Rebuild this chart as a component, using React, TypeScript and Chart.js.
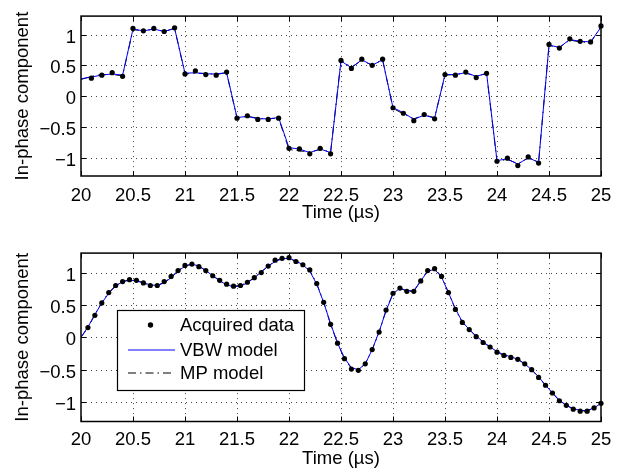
import React, { useEffect, useRef } from 'react';
import { Chart, registerables } from 'chart.js';

Chart.register(...registerables);

const FONT = "'Liberation Sans', Arial, Helvetica, sans-serif";
const FONT_SIZE = 18.5;

// Axis ticks
const xTicks = [20, 20.5, 21, 21.5, 22, 22.5, 23, 23.5, 24, 24.5, 25];
const yTicks = [-1, -0.5, 0, 0.5, 1];
const xMin = 20;
const xMax = 25;
const yMin = -1.3;
const yMax = 1.3;

const xTitle = 'Time (µs)';
const yTitle = 'In-phase component';
const legendLabels = ['Acquired data', 'VBW model', 'MP model'];

// ---------- Top panel (sampling every 0.1 µs) ----------
const topStart = 20;
const topStep = 0.1;
// acquired samples at 20.1 ... 25.0
const topAcquired = [
  0.29, 0.34, 0.38, 0.32,
  1.10, 1.06, 1.10, 1.05, 1.11,
  0.36, 0.41, 0.35, 0.34, 0.39,
  -0.36, -0.32, -0.38, -0.38, -0.36,
  -0.85, -0.86, -0.94, -0.85, -0.94,
  0.58, 0.45, 0.60, 0.50, 0.60,
  -0.19, -0.28, -0.40, -0.30, -0.37,
  0.35, 0.34, 0.39, 0.30, 0.37,
  -1.06, -1.01, -1.13, -0.99, -1.09,
  0.84, 0.78, 0.93, 0.89, 0.88,
  1.14,
];
// models at 20.0 ... 25.0
const topVBW = [
  0.28,
  0.31, 0.34, 0.36, 0.34,
  1.09, 1.06, 1.09, 1.05, 1.10,
  0.37, 0.38, 0.36, 0.36, 0.38,
  -0.35, -0.33, -0.37, -0.37, -0.35,
  -0.84, -0.86, -0.92, -0.86, -0.92,
  0.57, 0.46, 0.59, 0.50, 0.59,
  -0.19, -0.27, -0.38, -0.31, -0.36,
  0.35, 0.35, 0.38, 0.32, 0.37,
  -1.05, -1.02, -1.11, -1.00, -1.08,
  0.83, 0.79, 0.92, 0.89, 0.88,
  1.12,
];
const topMP = [
  0.27,
  0.32, 0.35, 0.35, 0.33,
  1.08, 1.06, 1.09, 1.05, 1.10,
  0.36, 0.37, 0.37, 0.35, 0.38,
  -0.36, -0.33, -0.36, -0.37, -0.36,
  -0.87, -0.89, -0.91, -0.87, -0.91,
  0.58, 0.47, 0.58, 0.50, 0.59,
  -0.20, -0.29, -0.37, -0.31, -0.35,
  0.34, 0.35, 0.37, 0.33, 0.36,
  -1.06, -1.03, -1.10, -1.01, -1.07,
  0.82, 0.79, 0.91, 0.88, 0.87,
  1.13,
];

// ---------- Bottom panel (sampling every 1/15 µs) ----------
const bottomStart = 20;
const bottomStep = 1 / 15;
// acquired samples at 20 + 1/15 ... 25.0
const bottomAcquired = [
  0.15, 0.34, 0.53, 0.69, 0.80, 0.86, 0.89, 0.88, 0.84, 0.80,
  0.80, 0.86, 0.94, 1.03, 1.11, 1.13, 1.09, 1.03, 0.95, 0.88,
  0.82, 0.79, 0.80, 0.85, 0.92, 1.00, 1.10, 1.19, 1.22, 1.23,
  1.17, 1.12, 1.04, 0.83, 0.54, 0.20, -0.09, -0.33, -0.49, -0.51,
  -0.41, -0.19, 0.08, 0.42, 0.68, 0.76, 0.71, 0.71, 0.87, 1.03,
  1.06, 0.94, 0.69, 0.43, 0.23, 0.12, 0.01, -0.08, -0.15, -0.23,
  -0.28, -0.31, -0.34, -0.41, -0.50, -0.62, -0.74, -0.86, -0.98, -1.05,
  -1.11, -1.14, -1.14, -1.09, -1.02,
];
// models at 20.0 ... 25.0
const bottomVBW = [
  0.00,
  0.16, 0.35, 0.53, 0.68, 0.79, 0.86, 0.88, 0.87, 0.84, 0.81,
  0.80, 0.84, 0.92, 1.02, 1.10, 1.13, 1.10, 1.03, 0.95, 0.87,
  0.81, 0.78, 0.79, 0.84, 0.92, 1.01, 1.10, 1.17, 1.21, 1.22,
  1.18, 1.12, 1.02, 0.82, 0.54, 0.21, -0.09, -0.32, -0.47, -0.50,
  -0.41, -0.19, 0.09, 0.41, 0.67, 0.76, 0.72, 0.72, 0.87, 1.02,
  1.05, 0.93, 0.69, 0.44, 0.24, 0.12, 0.02, -0.07, -0.15, -0.22,
  -0.27, -0.30, -0.34, -0.41, -0.50, -0.61, -0.74, -0.86, -0.97, -1.05,
  -1.10, -1.13, -1.13, -1.09, -1.02,
];
const bottomMP = [
  0.00,
  0.15, 0.35, 0.54, 0.69, 0.80, 0.86, 0.89, 0.88, 0.84, 0.80,
  0.80, 0.85, 0.93, 1.03, 1.10, 1.13, 1.10, 1.03, 0.95, 0.88,
  0.82, 0.79, 0.80, 0.85, 0.92, 1.01, 1.10, 1.18, 1.22, 1.22,
  1.17, 1.12, 1.03, 0.83, 0.54, 0.20, -0.09, -0.33, -0.48, -0.50,
  -0.41, -0.19, 0.08, 0.42, 0.68, 0.76, 0.71, 0.71, 0.87, 1.03,
  1.06, 0.94, 0.69, 0.43, 0.23, 0.12, 0.01, -0.08, -0.15, -0.23,
  -0.28, -0.31, -0.34, -0.41, -0.50, -0.62, -0.74, -0.86, -0.98, -1.05,
  -1.11, -1.14, -1.14, -1.09, -1.02,
];

const MP_DASH = [8, 4, 1.5, 4];

const fmt = (v: number) => (v < 0 ? '\u2212' + String(Math.abs(v)) : String(v));

const toPoints = (vals: number[], start: number, step: number, offset: number) =>
  vals.map((y, i) => ({ x: start + (i + offset) * step, y }));

const framePlugin = {
  id: 'matlabFrame',
  beforeDatasetsDraw(chart: any) {
    const { ctx, chartArea: a, scales } = chart;
    const xs = scales.x;
    const ys = scales.y;
    ctx.save();
    ctx.strokeStyle = '#444';
    ctx.lineWidth = 1;
    ctx.setLineDash([1, 4]);
    for (const v of xTicks) {
      if (v === xMin || v === xMax) continue;
      const px = Math.round(xs.getPixelForValue(v)) + 0.5;
      ctx.beginPath();
      ctx.moveTo(px, a.top);
      ctx.lineTo(px, a.bottom);
      ctx.stroke();
    }
    for (const v of yTicks) {
      const py = Math.round(ys.getPixelForValue(v)) + 0.5;
      ctx.beginPath();
      ctx.moveTo(a.left, py);
      ctx.lineTo(a.right, py);
      ctx.stroke();
    }
    ctx.restore();
  },
  afterDatasetsDraw(chart: any) {
    const { ctx, chartArea: a, scales } = chart;
    const xs = scales.x;
    const ys = scales.y;
    const tl = 5;
    ctx.save();
    ctx.strokeStyle = '#000';
    ctx.lineWidth = 1;
    ctx.setLineDash([]);
    for (const v of xTicks) {
      const px = Math.round(xs.getPixelForValue(v)) + 0.5;
      ctx.beginPath();
      ctx.moveTo(px, a.bottom);
      ctx.lineTo(px, a.bottom - tl);
      ctx.moveTo(px, a.top);
      ctx.lineTo(px, a.top + tl);
      ctx.stroke();
    }
    for (const v of yTicks) {
      const py = Math.round(ys.getPixelForValue(v)) + 0.5;
      ctx.beginPath();
      ctx.moveTo(a.left, py);
      ctx.lineTo(a.left + tl, py);
      ctx.moveTo(a.right, py);
      ctx.lineTo(a.right - tl, py);
      ctx.stroke();
    }
    ctx.lineWidth = 1.5;
    ctx.strokeRect(a.left, a.top, a.right - a.left, a.bottom - a.top);
    ctx.restore();
  },
};

const legendPlugin = {
  id: 'matlabLegend',
  afterDatasetsDraw(chart: any) {
    const opts = chart.options.plugins.matlabLegend;
    if (!opts || !opts.show) return;
    const { ctx } = chart;
    const { left, top, width, height } = opts.box;
    ctx.save();
    ctx.fillStyle = '#fff';
    ctx.fillRect(left, top, width, height);
    ctx.strokeStyle = '#000';
    ctx.lineWidth = 1.2;
    ctx.strokeRect(left + 0.5, top + 0.5, width, height);
    const rows = opts.rows as number[];
    const lx0 = left + 11;
    const lx1 = left + 58;
    const tx = left + 63;
    ctx.font = `${FONT_SIZE}px ${FONT}`;
    ctx.fillStyle = '#000';
    ctx.textBaseline = 'middle';
    ctx.textAlign = 'left';
    // Acquired data marker
    ctx.beginPath();
    ctx.arc(left + 33.5, top + rows[0], 2.7, 0, Math.PI * 2);
    ctx.fill();
    // VBW
    ctx.strokeStyle = '#0000ff';
    ctx.lineWidth = 1;
    ctx.beginPath();
    ctx.moveTo(lx0, top + rows[1]);
    ctx.lineTo(lx1, top + rows[1]);
    ctx.stroke();
    // MP
    ctx.strokeStyle = '#000';
    ctx.setLineDash(MP_DASH);
    ctx.beginPath();
    ctx.moveTo(lx0, top + rows[2]);
    ctx.lineTo(lx1, top + rows[2]);
    ctx.stroke();
    ctx.setLineDash([]);
    legendLabels.forEach((t, i) => ctx.fillText(t, tx, top + rows[i] + 1));
    ctx.restore();
  },
};

type PanelProps = {
  acquired: number[];
  vbw: number[];
  mp: number[];
  start: number;
  step: number;
  xAxisHeight: number;
  tickPad: number;
  titlePadBottom: number;
  legend: boolean;
  top: number;
};

function Panel(p: PanelProps) {
  const ref = useRef<HTMLCanvasElement | null>(null);
  useEffect(() => {
    if (!ref.current) return;
    const font = { family: FONT, size: FONT_SIZE };
    const chart = new Chart(ref.current, {
      type: 'line',
      data: {
        datasets: [
          {
            label: legendLabels[0],
            data: toPoints(p.acquired, p.start, p.step, 1),
            showLine: false,
            pointRadius: 2.6,
            pointBackgroundColor: '#000',
            pointBorderWidth: 0,
            borderColor: '#000',
            order: 0,
            clip: false as any,
          },
          {
            label: legendLabels[1],
            data: toPoints(p.vbw, p.start, p.step, 0),
            borderColor: '#0000ff',
            borderWidth: 1,
            pointRadius: 0,
            tension: 0,
            order: 1,
          },
          {
            label: legendLabels[2],
            data: toPoints(p.mp, p.start, p.step, 0),
            borderColor: '#000',
            borderWidth: 1,
            borderDash: MP_DASH,
            pointRadius: 0,
            tension: 0,
            order: 2,
          },
        ],
      },
      options: {
        responsive: false,
        animation: false,
        devicePixelRatio: 1,
        events: [],
        layout: { padding: { left: 0, top: 12, right: 21, bottom: 0 } },
        plugins: {
          legend: { display: false },
          tooltip: { enabled: false },
          matlabLegend: {
            show: p.legend,
            box: { left: 117, top: 73, width: 187, height: 80 },
            rows: [15, 40, 63],
          },
        } as any,
        scales: {
          x: {
            type: 'linear',
            min: xMin,
            max: xMax,
            afterBuildTicks: (s: any) => {
              s.ticks = xTicks.map((v) => ({ value: v }));
            },
            afterFit: (s: any) => {
              s.height = p.xAxisHeight;
            },
            grid: { display: false, drawTicks: false },
            border: { display: false },
            ticks: {
              color: '#000',
              font,
              padding: p.tickPad,
              maxRotation: 0,
              autoSkip: false,
              callback: (v: any) => fmt(Number(v)),
            },
            title: {
              display: true,
              text: xTitle,
              color: '#000',
              font,
              padding: { top: 0, bottom: p.titlePadBottom },
            },
          },
          y: {
            type: 'linear',
            min: yMin,
            max: yMax,
            afterBuildTicks: (s: any) => {
              s.ticks = yTicks.map((v) => ({ value: v }));
            },
            afterFit: (s: any) => {
              s.width = 81;
            },
            grid: { display: false, drawTicks: false },
            border: { display: false },
            ticks: {
              color: '#000',
              font,
              padding: 5,
              labelOffset: 3,
              autoSkip: false,
              callback: (v: any) => fmt(Number(v)),
            },
            title: {
              display: true,
              text: yTitle,
              color: '#000',
              font,
              padding: { top: 12, bottom: 0 },
            },
          },
        },
      },
      plugins: [framePlugin, legendPlugin],
    } as any);
    return () => chart.destroy();
  }, []);
  return (
    <canvas
      ref={ref}
      width={622}
      height={237}
      style={{ position: 'absolute', left: 0, top: p.top, width: 622, height: 237 }}
    />
  );
}

export default function App() {
  return (
    <div style={{ position: 'absolute', left: 0, top: 0, width: 622, height: 474, background: '#fff' }}>
      <Panel
        acquired={topAcquired}
        vbw={topVBW}
        mp={topMP}
        start={topStart}
        step={topStep}
        xAxisHeight={61}
        tickPad={8.5}
        titlePadBottom={12.5}
        legend={false}
        top={0}
      />
      <Panel
        acquired={bottomAcquired}
        vbw={bottomVBW}
        mp={bottomMP}
        start={bottomStart}
        step={bottomStep}
        xAxisHeight={52.5}
        tickPad={7.5}
        titlePadBottom={3.5}
        legend={true}
        top={237}
      />
    </div>
  );
}
